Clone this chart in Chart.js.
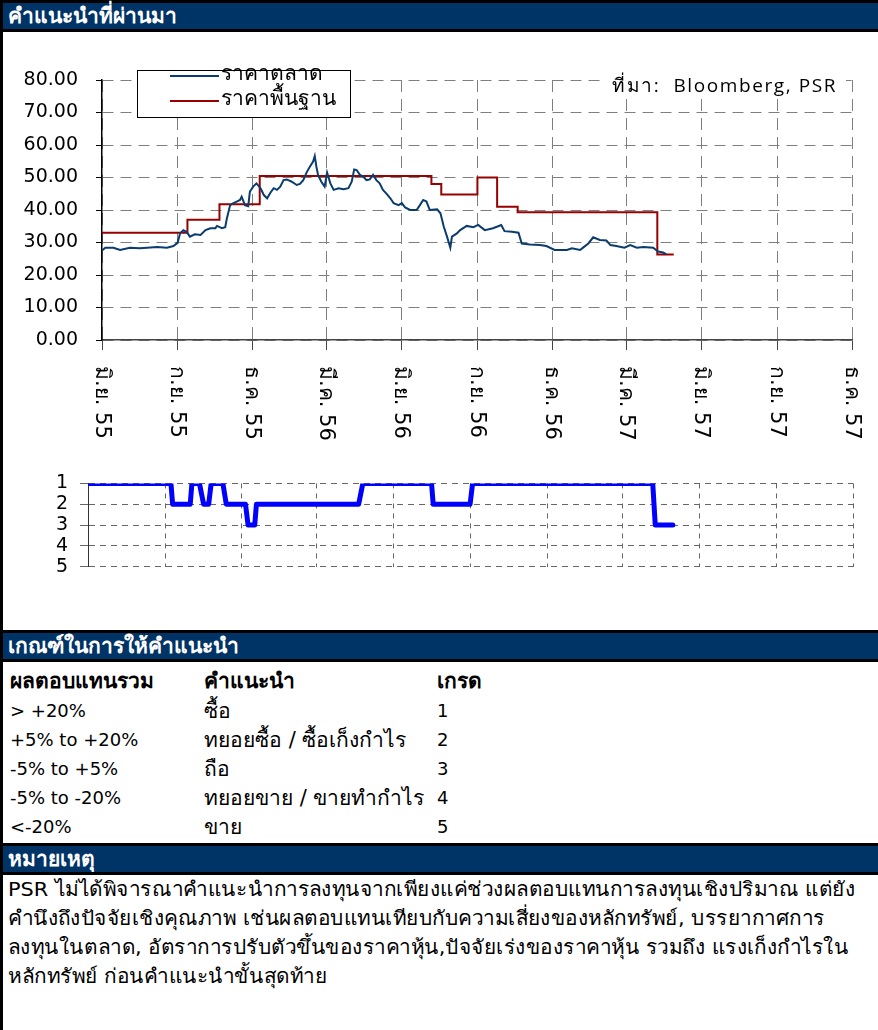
<!DOCTYPE html>
<html>
<head>
<meta charset="utf-8">
<script src="https://cdn.jsdelivr.net/npm/chart.js@4.4.1/dist/chart.umd.min.js"></script>
<style>
  body { margin: 0; background: #fff; font-family: "DejaVu Sans", sans-serif; }
  #page { position: relative; width: 878px; height: 1030px; overflow: hidden; }
  .leftline { position: absolute; left: 0; top: 0; width: 3px; height: 1030px; background: #000; }
  .bar { position: absolute; left: 0; width: 878px; height: 26px; background: #003366;
         border-top: 3px solid #000; border-bottom: 3px solid #000;
         color: #fff; font-weight: bold; font-size: 21px; line-height: 26px; padding-left: 8px; box-sizing: content-box; }
  .cell { position: absolute; font-size: 18px; line-height: 20px; white-space: nowrap; color: #000; }
  .th { font-size: 21px; }
  .b { font-weight: bold; }
  .note { position: absolute; left: 8px; font-size: 20px; line-height: 22px; white-space: nowrap; transform-origin: 0 50%; }
  canvas { position: absolute; left: 0; }
</style>
</head>
<body>
<div id="page">
  <div class="bar" style="top:0">คำแนะนำที่ผ่านมา</div>
  <canvas id="priceChart" width="878" height="420" style="top:32px"></canvas>
  <canvas id="gradeChart" width="878" height="130" style="top:460px"></canvas>
  <div class="bar" style="top:630px">เกณฑ์ในการให้คำแนะนำ</div>
  <div id="table"></div>
  <div class="bar" style="top:843px">หมายเหตุ</div>
  <div id="notes"></div>
  <div class="leftline"></div>
</div>
<script>
// quarter ticks, days counted from 1 Jun 2012
const quarterLabels = ["มิ.ย. 55", "ก.ย. 55", "ธ.ค. 55", "มี.ค. 56", "มิ.ย. 56", "ก.ย. 56",
  "ธ.ค. 56", "มี.ค. 57", "มิ.ย. 57", "ก.ย. 57", "ธ.ค. 57"];
const quarterDays = [0, 92, 183, 273, 365, 457, 548, 638, 730, 822, 913];

// market price (ราคาตลาด)
const priceDays = [0, 4, 14, 22, 34, 46, 55, 67, 79, 87, 92, 95, 99, 103, 107, 113, 120, 126, 132, 138,
  140, 146, 150, 152, 156, 160, 164, 168, 170, 174, 178, 180, 184, 188, 193, 197, 201, 205, 209, 213,
  217, 221, 225, 231, 237, 241, 245, 249, 253, 257, 259, 261, 263, 267, 271, 274, 278, 282, 288, 294,
  300, 304, 307, 310, 314, 318, 322, 326, 330, 334, 338, 342, 346, 351, 355, 361, 365, 369, 375, 383,
  387, 391, 395, 399, 408, 412, 416, 420, 424, 426, 432, 436, 444, 452, 458, 466, 476, 486, 490, 499,
  507, 511, 521, 533, 541, 551, 566, 572, 582, 586, 592, 598, 606, 614, 619, 626, 636, 643, 651, 659,
  671, 677, 683, 687];
const priceValues = [27.5, 28.4, 28.4, 27.7, 28.4, 28.2, 28.4, 28.6, 28.4, 28.9, 29.9, 32.8, 33.8, 33.3, 31.8, 32.5, 32.3, 33.8, 34.4, 34.4,
  35.1, 34.4, 34.7, 37.4, 41.5, 42.1, 42.6, 43.1, 44.1, 41.5, 41.2, 45.6, 47.2, 48.2, 46.7, 44.6, 43.6, 45.3, 46.7, 46.2,
  47.2, 49.2, 49.4, 48.7, 47.7, 48.0, 49.2, 51.5, 53.3, 54.9, 56.6, 53.3, 50.8, 48.7, 47.2, 51.5, 48.2, 46.2, 46.7, 46.4,
  46.7, 48.7, 52.5, 52.3, 50.8, 50.3, 49.2, 49.4, 50.8, 49.2, 48.2, 46.2, 45.1, 43.6, 42.1, 41.5, 42.1, 40.8, 40.0, 40.0,
  41.5, 43.1, 42.6, 40.0, 40.2, 39.0, 34.9, 31.8, 28.4, 31.8, 32.8, 33.8, 35.1, 34.7, 35.4, 33.8, 34.4, 35.4, 33.5, 33.3,
  33.0, 29.7, 29.4, 29.2, 28.9, 27.7, 27.7, 28.2, 27.7, 28.5, 29.7, 31.6, 30.8, 30.6, 29.2, 28.9, 28.4, 29.2, 28.4, 28.6,
  28.4, 27.2, 26.9, 26.4];

// fundamental price (ราคาพื้นฐาน), days where a new target starts
const targetDays = [0, 104, 143, 192, 401, 413, 457, 481, 506, 676, 696];
const targetValues = [33.0, 37.0, 41.8, 50.5, 48.0, 44.8, 50.0, 41.0, 39.3, 26.3, 26.3];

// grade 1-5
const gradeDays = [0, 99, 101, 122, 124, 133, 138, 144, 147, 161, 165, 188, 191, 199, 201, 323, 328,
  410, 412, 456, 459, 674, 677, 698];
const gradeValues = [1, 1, 2, 2, 1, 1, 2, 2, 1, 1, 2, 2, 3, 3, 2, 2, 1, 1, 2, 2, 1, 1, 3, 3];

const yTicks = [0, 10, 20, 30, 40, 50, 60, 70, 80];

const tableRows = [
  ["> +20%", "ซื้อ", "1"],
  ["+5% to +20%", "ทยอยซื้อ / ซื้อเก็งกำไร", "2"],
  ["-5% to +5%", "ถือ", "3"],
  ["-5% to -20%", "ทยอยขาย / ขายทำกำไร", "4"],
  ["<-20%", "ขาย", "5"],
];
const noteLines = [
  "PSR ไม่ได้พิจารณาคำแนะนำการลงทุนจากเพียงแค่ช่วงผลตอบแทนการลงทุนเชิงปริมาณ แต่ยัง",
  "คำนึงถึงปัจจัยเชิงคุณภาพ เช่นผลตอบแทนเทียบกับความเสี่ยงของหลักทรัพย์, บรรยากาศการ",
  "ลงทุนในตลาด, อัตราการปรับตัวขึ้นของราคาหุ้น,ปัจจัยเร่งของราคาหุ้น รวมถึง แรงเก็งกำไรใน",
  "หลักทรัพย์ ก่อนคำแนะนำขั้นสุดท้าย",
];

// table + notes
const tableEl = document.getElementById("table");
const colX = [10, 204, 437];
const esc = (t) => t.replace(/</g, "&lt;");
let html = "";
["ผลตอบแทนรวม", "คำแนะนำ", "เกรด"].forEach((t, i) => {
  html += `<div class="cell th b" style="left:${colX[i]}px;top:671px">${t}</div>`;
});
tableRows.forEach((r, j) => {
  r.forEach((t, i) => {
    const cls = i === 1 ? "cell th" : "cell";
    html += `<div class="${cls}" style="left:${colX[i]}px;top:${701 + j * 29}px">${esc(t)}</div>`;
  });
});
tableEl.innerHTML = html;
const notesEl = document.getElementById("notes");
notesEl.innerHTML = noteLines
  .map((t, i) => `<div class="note" style="top:${878 + i * 29}px">${t}</div>`)
  .join("");
// the note text is set narrow in the original, squeeze to the same line length
const firstNote = notesEl.firstChild;
const squeeze = 847 / firstNote.getBoundingClientRect().width;
notesEl.querySelectorAll(".note").forEach((el) => {
  el.style.transform = `scaleX(${squeeze})`;
});

const toXY = (xs, ys) => xs.map((x, i) => ({ x: x, y: ys[i] }));
const setQuarterTicks = (s) => {
  s.ticks = quarterDays.map((v) => ({ value: v }));
};

const priceDecor = {
  id: "priceDecor",
  afterDraw(chart) {
    const ctx = chart.ctx;
    const xs = chart.scales.x;
    ctx.save();
    // rotated quarter labels
    ctx.fillStyle = "#000";
    ctx.font = "21px 'DejaVu Sans'";
    ctx.textAlign = "left";
    ctx.textBaseline = "middle";
    quarterDays.forEach((d, i) => {
      ctx.save();
      ctx.translate(xs.getPixelForValue(d) - 1, 334);
      ctx.rotate(Math.PI / 2);
      ctx.fillText(quarterLabels[i], 0, 0);
      ctx.restore();
    });
    // legend
    ctx.fillStyle = "#fff";
    ctx.fillRect(137, 38, 213, 47);
    ctx.strokeStyle = "#000";
    ctx.lineWidth = 1;
    ctx.strokeRect(137.5, 38.5, 213, 47);
    ctx.textBaseline = "alphabetic";
    [["ราคาตลาด", "#0b3c6e", 44], ["ราคาพื้นฐาน", "#990000", 69]].forEach(([t, c, y]) => {
      ctx.strokeStyle = c;
      ctx.lineWidth = 2;
      ctx.beginPath();
      ctx.moveTo(170, y);
      ctx.lineTo(219, y);
      ctx.stroke();
      ctx.fillStyle = "#000";
      ctx.font = "21px 'DejaVu Sans'";
      ctx.fillText(t, 221, y + 4);
    });
    // source
    ctx.fillStyle = "#fff";
    ctx.fillRect(604, 42, 242, 22);
    ctx.fillStyle = "#000";
    ctx.font = "19px 'Open Sans'";
    ctx.letterSpacing = "1.6px";
    ctx.fillText("ที่มา:  Bloomberg, PSR", 612, 60);
    ctx.restore();
  },
};

new Chart(document.getElementById("priceChart"), {
  type: "line",
  data: {
    datasets: [
      {
        label: "ราคาตลาด",
        data: toXY(priceDays, priceValues),
        borderColor: "#0b3c6e",
        borderWidth: 2,
        pointRadius: 0,
      },
      {
        label: "ราคาพื้นฐาน",
        data: toXY(targetDays, targetValues),
        borderColor: "#990000",
        borderWidth: 2,
        pointRadius: 0,
        stepped: "before",
      },
    ],
  },
  options: {
    responsive: false,
    animation: false,
    layout: { padding: { top: 48, right: 26, left: 0, bottom: 0 } },
    plugins: { legend: { display: false }, tooltip: { enabled: false } },
    scales: {
      x: {
        type: "linear",
        min: 0,
        max: 913,
        afterBuildTicks: setQuarterTicks,
        afterFit: (s) => { s.height = 112; },
        ticks: { display: false },
        grid: { color: "#7f7f7f", tickLength: 10, tickColor: "#444", tickBorderDash: [] },
        border: { color: "#444", width: 1.5, dash: [12, 7] },
      },
      y: {
        min: 0,
        max: 80,
        afterBuildTicks: (s) => { s.ticks = yTicks.map((v) => ({ value: v })); },
        afterFit: (s) => { s.width = 102; },
        ticks: {
          padding: 18,
          color: "#000",
          font: { family: "DejaVu Sans", size: 19 },
          callback: (v) => v.toFixed(2),
        },
        grid: { color: "#7f7f7f", tickLength: 6, tickColor: "#000", tickBorderDash: [] },
        border: { color: "#000", width: 1.5, dash: [11, 7] },
      },
    },
  },
  plugins: [priceDecor],
});

new Chart(document.getElementById("gradeChart"), {
  type: "line",
  data: {
    datasets: [
      {
        data: toXY(gradeDays, gradeValues),
        borderColor: "#0000ff",
        borderWidth: 5,
        pointRadius: 0,
        borderCapStyle: "round",
        borderJoinStyle: "round",
      },
    ],
  },
  options: {
    responsive: false,
    animation: false,
    layout: { padding: { top: 19, right: 25, left: 0, bottom: 0 } },
    plugins: { legend: { display: false }, tooltip: { enabled: false } },
    scales: {
      x: {
        type: "linear",
        min: 0,
        max: 913,
        afterBuildTicks: setQuarterTicks,
        afterFit: (s) => { s.height = 19; },
        ticks: { display: false },
        grid: { color: "#666", drawTicks: false },
        border: { display: false, dash: [5, 5] },
      },
      y: {
        reverse: true,
        min: 1,
        max: 5,
        afterBuildTicks: (s) => { s.ticks = [1, 2, 3, 4, 5].map((v) => ({ value: v })); },
        afterFit: (s) => { s.width = 88; },
        ticks: { padding: 12, color: "#000", font: { family: "DejaVu Sans", size: 19 } },
        grid: { color: "#666", tickLength: 8 },
        border: { color: "#333", width: 1, dash: [6, 5] },
      },
    },
  },
});
</script>
</body>
</html>
